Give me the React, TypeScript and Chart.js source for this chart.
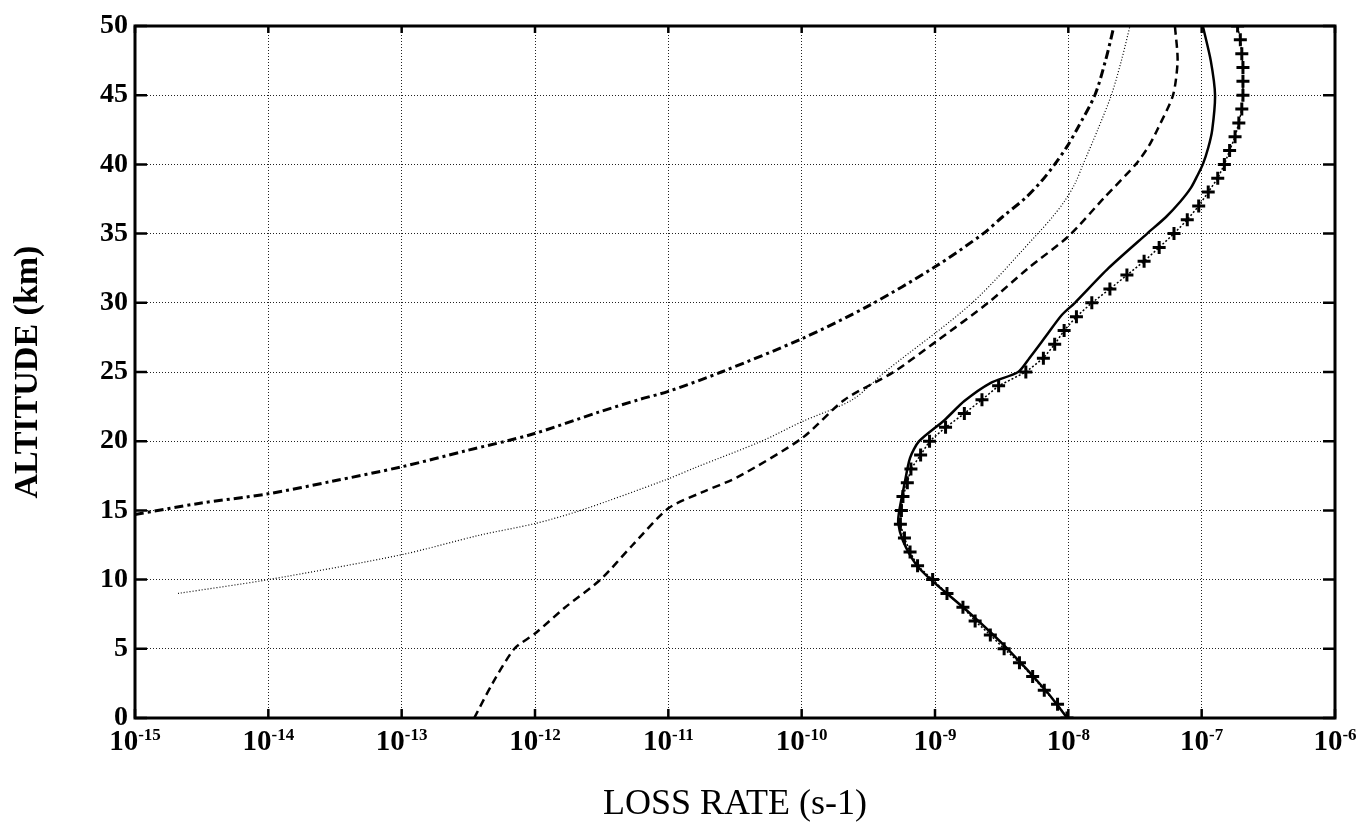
import { useEffect, useRef } from 'react';
import { Chart, registerables } from 'chart.js';

Chart.register(...registerables);

const FONT = "'Liberation Serif', 'Times New Roman', serif";

// Altitude (km) and loss rate (s-1) for each curve
const altDashDot = [14.7, 15.5, 16.2, 17.1, 18.15, 19.3, 20.5, 22.1, 23.0, 23.6, 25.0, 27.4, 29.8, 32.6, 35.0, 36.2, 37.6, 38.8, 40.0, 41.3, 42.6, 45.0, 47.5, 50.0];
const lossDashDot = [1.0e-15, 3.0e-15, 1.0e-14, 3.0e-14, 1.0e-13, 3.0e-13, 9.5e-13, 3.0e-12, 6.0e-12, 1.0e-11, 2.5e-11, 1.0e-10, 3.2e-10, 1.0e-9, 2.3e-9, 3.2e-9, 4.8e-9, 6.3e-9, 7.9e-9, 9.8e-9, 1.17e-8, 1.58e-8, 1.9e-8, 2.2e-8];

const altDotted = [9.0, 10.0, 11.8, 13.2, 14.05, 15.0, 17.2, 18.1, 20.0, 21.4, 23.0, 25.0, 30.0, 35.0, 36.2, 37.3, 38.6, 40.0, 42.5, 45.0, 47.5, 50.0];
const lossDotted = [2.1e-15, 1.0e-14, 1.0e-13, 3.8e-13, 1.0e-12, 2.2e-12, 9.5e-12, 1.6e-11, 5.0e-11, 1.0e-10, 2.4e-10, 4.2e-10, 1.9e-9, 5.9e-9, 7.6e-9, 9.3e-9, 1.12e-8, 1.29e-8, 1.66e-8, 2.1e-8, 2.5e-8, 2.9e-8];

const altDashed = [0, 2.5, 5.0, 6.1, 7.95, 10.0, 12.5, 15.15, 16.3, 17.4, 20.2, 23.0, 25.0, 27.2, 30.0, 32.5, 34.8, 37.6, 40.0, 41.3, 42.6, 45.0, 47.5, 50.0];
const lossDashed = [3.5e-13, 4.8e-13, 7.0e-13, 1.0e-12, 1.66e-12, 3.1e-12, 5.4e-12, 1.0e-11, 1.78e-11, 3.3e-11, 1.0e-10, 2.1e-10, 4.9e-10, 1.02e-9, 2.5e-9, 5.0e-9, 1.0e-8, 1.86e-8, 3.2e-8, 4.0e-8, 4.7e-8, 6.1e-8, 6.6e-8, 6.3e-8];

const altSolid = [0, 1.9, 5.0, 7.5, 10.0, 11.1, 12.8, 14.1, 15.0, 16.9, 18.8, 20.0, 21.5, 22.9, 24.2, 25.0, 26.0, 27.6, 29.1, 30.0, 32.5, 35.0, 36.2, 37.3, 38.3, 39.2, 40.0, 41.2, 42.5, 45.0, 47.5, 50.0];
const lossSolid = [9.8e-9, 6.9e-9, 3.5e-9, 1.86e-9, 9.3e-10, 7.2e-10, 5.75e-10, 5.3e-10, 5.4e-10, 5.9e-10, 6.5e-10, 7.6e-10, 1.17e-9, 1.66e-9, 2.6e-9, 4.2e-9, 5.1e-9, 6.8e-9, 8.9e-9, 1.12e-8, 2.0e-8, 3.9e-8, 5.4e-8, 6.9e-8, 8.3e-8, 9.3e-8, 1.02e-7, 1.12e-7, 1.2e-7, 1.26e-7, 1.17e-7, 1.02e-7];

const altPlus = [0, 1, 2, 3, 4, 5, 6, 7, 8, 9, 10, 11, 12, 13, 14, 15, 16, 17, 18, 19, 20, 21, 22, 23, 24, 25, 26, 27, 28, 29, 30, 31, 32, 33, 34, 35, 36, 37, 38, 39, 40, 41, 42, 43, 44, 45, 46, 47, 48, 49, 50];
const lossPlus = [9.77e-9, 8.3e-9, 6.6e-9, 5.4e-9, 4.3e-9, 3.3e-9, 2.6e-9, 2.0e-9, 1.62e-9, 1.23e-9, 9.6e-10, 7.4e-10, 6.5e-10, 5.9e-10, 5.5e-10, 5.6e-10, 5.75e-10, 6.2e-10, 6.6e-10, 7.8e-10, 9.1e-10, 1.2e-9, 1.66e-9, 2.25e-9, 3.0e-9, 4.8e-9, 6.5e-9, 7.9e-9, 9.3e-9, 1.15e-8, 1.5e-8, 2.05e-8, 2.75e-8, 3.7e-8, 4.8e-8, 6.2e-8, 7.8e-8, 9.5e-8, 1.12e-7, 1.32e-7, 1.48e-7, 1.62e-7, 1.78e-7, 1.9e-7, 2.0e-7, 2.04e-7, 2.04e-7, 2.04e-7, 2.0e-7, 1.95e-7, 1.86e-7];

const xTickValues = [1e-15, 1e-14, 1e-13, 1e-12, 1e-11, 1e-10, 1e-9, 1e-8, 1e-7, 1e-6];
const xTickExponents = ['-15', '-14', '-13', '-12', '-11', '-10', '-9', '-8', '-7', '-6'];
const yTickValues = [0, 5, 10, 15, 20, 25, 30, 35, 40, 45, 50];

const xTitle = 'LOSS RATE (s-1)';
const yTitle = 'ALTITUDE (km)';

const pts = (xs: number[], ys: number[]) => xs.map((v, i) => ({ x: v, y: ys[i] }));

const framePlugin = {
  id: 'framePlugin',
  afterDraw(chart: any) {
    const { ctx, chartArea: a, scales } = chart;
    const xs = scales.x;
    const ys = scales.y;
    ctx.save();
    ctx.strokeStyle = '#000';
    ctx.lineWidth = 3;
    ctx.strokeRect(a.left, a.top, a.right - a.left, a.bottom - a.top);
    ctx.lineWidth = 2.5;
    ctx.beginPath();
    yTickValues.forEach((v) => {
      const y = ys.getPixelForValue(v);
      ctx.moveTo(a.left, y);
      ctx.lineTo(a.left + 12, y);
      ctx.moveTo(a.right, y);
      ctx.lineTo(a.right - 12, y);
    });
    xTickValues.forEach((v) => {
      const x = xs.getPixelForValue(v);
      ctx.moveTo(x, a.bottom);
      ctx.lineTo(x, a.bottom - 9);
      ctx.moveTo(x, a.top);
      ctx.lineTo(x, a.top + 7);
    });
    ctx.stroke();

    ctx.fillStyle = '#000';
    ctx.textBaseline = 'alphabetic';
    ctx.textAlign = 'left';
    const bigFont = `bold 29px ${FONT}`;
    const smallFont = `bold 17px ${FONT}`;
    xTickValues.forEach((v, i) => {
      const x = xs.getPixelForValue(v);
      ctx.font = bigFont;
      const w1 = ctx.measureText('10').width;
      ctx.font = smallFont;
      const w2 = ctx.measureText(xTickExponents[i]).width;
      const start = x - (w1 + w2) / 2;
      ctx.font = bigFont;
      ctx.fillText('10', start, a.bottom + 32);
      ctx.font = smallFont;
      ctx.fillText(xTickExponents[i], start + w1, a.bottom + 22);
    });
    ctx.restore();
  },
};

export default function App() {
  const ref = useRef<HTMLCanvasElement>(null);

  useEffect(() => {
    if (!ref.current) return;
    const chart = new Chart(ref.current, {
      type: 'scatter',
      data: {
        datasets: [
          {
            label: 'dash-dot',
            data: pts(lossDashDot, altDashDot),
            showLine: true,
            borderColor: '#000',
            borderWidth: 3,
            borderDash: [9, 4, 3, 4],
            pointRadius: 0,
            tension: 0.3,
          },
          {
            label: 'dotted',
            data: pts(lossDotted, altDotted),
            showLine: true,
            borderColor: '#000',
            borderWidth: 1.2,
            borderDash: [1, 2],
            pointRadius: 0,
            tension: 0.3,
          },
          {
            label: 'dashed',
            data: pts(lossDashed, altDashed),
            showLine: true,
            borderColor: '#000',
            borderWidth: 2.5,
            borderDash: [8, 5],
            pointRadius: 0,
            tension: 0.25,
          },
          {
            label: 'solid',
            data: pts(lossSolid, altSolid),
            showLine: true,
            borderColor: '#000',
            borderWidth: 2.5,
            pointRadius: 0,
            tension: 0.25,
          },
          {
            label: 'plus',
            data: pts(lossPlus, altPlus),
            showLine: true,
            borderColor: '#000',
            borderWidth: 1.5,
            borderDash: [2, 2],
            pointStyle: 'cross',
            pointRadius: 6.5,
            pointBorderWidth: 3,
            pointBorderColor: '#000',
            pointBackgroundColor: '#000',
            tension: 0,
          },
        ],
      },
      options: {
        animation: false,
        responsive: false,
        maintainAspectRatio: false,
        layout: { padding: { top: 26, right: 24, left: 0, bottom: 0 } },
        plugins: { legend: { display: false }, tooltip: { enabled: false }, title: { display: false } },
        scales: {
          x: {
            type: 'logarithmic',
            min: 1e-15,
            max: 1e-6,
            afterBuildTicks: (scale: any) => {
              scale.ticks = xTickValues.map((v) => ({ value: v }));
            },
            afterFit: (scale: any) => {
              scale.height = 105;
            },
            ticks: { display: false },
            grid: { color: '#222', lineWidth: 1, drawTicks: false },
            border: { display: false, dash: [1, 2] },
            title: {
              display: true,
              text: xTitle,
              color: '#000',
              font: { family: FONT, size: 36, lineHeight: 1 },
              padding: { top: 0, bottom: 0 },
            },
          },
          y: {
            type: 'linear',
            min: 0,
            max: 50,
            afterBuildTicks: (scale: any) => {
              scale.ticks = yTickValues.map((v) => ({ value: v }));
            },
            afterFit: (scale: any) => {
              scale.width = 135;
            },
            ticks: {
              color: '#000',
              padding: 7,
              font: { family: FONT, size: 28, weight: 'bold' },
            },
            grid: { color: '#222', lineWidth: 1, drawTicks: false },
            border: { display: false, dash: [1, 2] },
            title: {
              display: true,
              text: yTitle,
              color: '#000',
              font: { family: FONT, size: 34, weight: 'bold', lineHeight: 1 },
              padding: { top: 11, bottom: 0 },
            },
          },
        },
      },
      plugins: [framePlugin],
    } as any);
    return () => chart.destroy();
  }, []);

  return (
    <div style={{ position: 'fixed', left: 0, top: 0, width: 1359, height: 823, background: '#fff' }}>
      <canvas ref={ref} width={1359} height={823} style={{ display: 'block' }} />
    </div>
  );
}
